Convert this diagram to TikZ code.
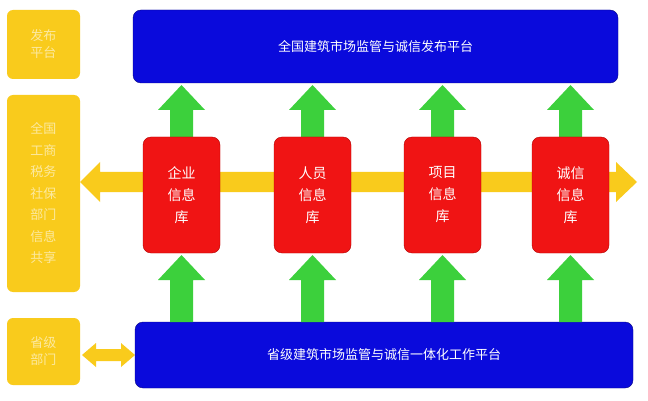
\documentclass[tikz,border=0pt]{standalone}
\usepackage{fontspec}
\newfontfamily\cjk{Noto Sans CJK SC}
\definecolor{yel}{HTML}{F9CB1C}
\definecolor{yeltxt}{HTML}{FCE9A0}
\definecolor{blu}{HTML}{0A0ADC}
\definecolor{rd}{HTML}{F01414}
\definecolor{grn}{HTML}{3CD03C}
\tikzset{
 side/.style={fill=yel,rounded corners=6pt,text=yeltxt,font=\cjk\fontsize{13}{17}\selectfont,align=center,inner sep=0pt},
 plat/.style={fill=blu,draw=blu!60!black,rounded corners=8pt,text=white,font=\cjk\fontsize{13}{16}\selectfont,inner sep=0pt},
 db/.style={fill=rd,draw=red!70!black,rounded corners=8pt,text=white,font=\cjk\fontsize{14}{22}\selectfont,align=center,inner sep=0pt,minimum width=77pt,minimum height=116pt},
 garrow/.style={fill=grn},
 yarrow/.style={fill=yel}
}
\begin{document}
\begin{tikzpicture}[x=1pt,y=-1pt]
\useasboundingbox (0,0) rectangle (648,401);
\fill[white] (0,0) rectangle (648,401);
% yellow horizontal arrow
\fill[yarrow] (80,182) -- (100,162) -- (100,172) -- (616,172) -- (616,162) -- (637,182) -- (616,202) -- (616,192) -- (100,192) -- (100,202) -- cycle;
% bottom double arrow
\fill[yarrow] (82,355) -- (96,343) -- (96,349) -- (121,349) -- (121,343) -- (135,355) -- (121,367) -- (121,361) -- (96,361) -- (96,367) -- cycle;
\node[side,minimum width=73pt,minimum height=69pt] (pub) at (43.5,44.5) {发布\\平台};
\node[side,minimum width=73pt,minimum height=197pt,font=\cjk\fontsize{13}{21.5}\selectfont] (share) at (43.5,193.5) {全国\\工商\\税务\\社保\\部门\\信息\\共享};
\node[side,minimum width=73pt,minimum height=67pt] (prov) at (43.5,351.5) {省级\\部门};
\node[plat,minimum width=485pt,minimum height=73pt] (top) at (375.5,46.5) {全国建筑市场监管与诚信发布平台};
\node[plat,minimum width=498pt,minimum height=66pt] (bot) at (384,355) {省级建筑市场监管与诚信一体化工作平台};
\foreach \n/\x/\t in {a/181.5/企业, b/312.5/人员, c/442.5/项目, d/570.5/诚信}{
  \fill[garrow] (\x-11.5,137) -- (\x-11.5,110) -- (\x-23.5,110) -- (\x,85) -- (\x+23.5,110) -- (\x+11.5,110) -- (\x+11.5,137) -- cycle;
  \fill[garrow] (\x-11.5,322) -- (\x-11.5,280) -- (\x-23.5,280) -- (\x,255) -- (\x+23.5,280) -- (\x+11.5,280) -- (\x+11.5,322) -- cycle;
  \node[db] (\n) at (\x,195) {\t\\信息\\库};
}
\end{tikzpicture}
\end{document}
